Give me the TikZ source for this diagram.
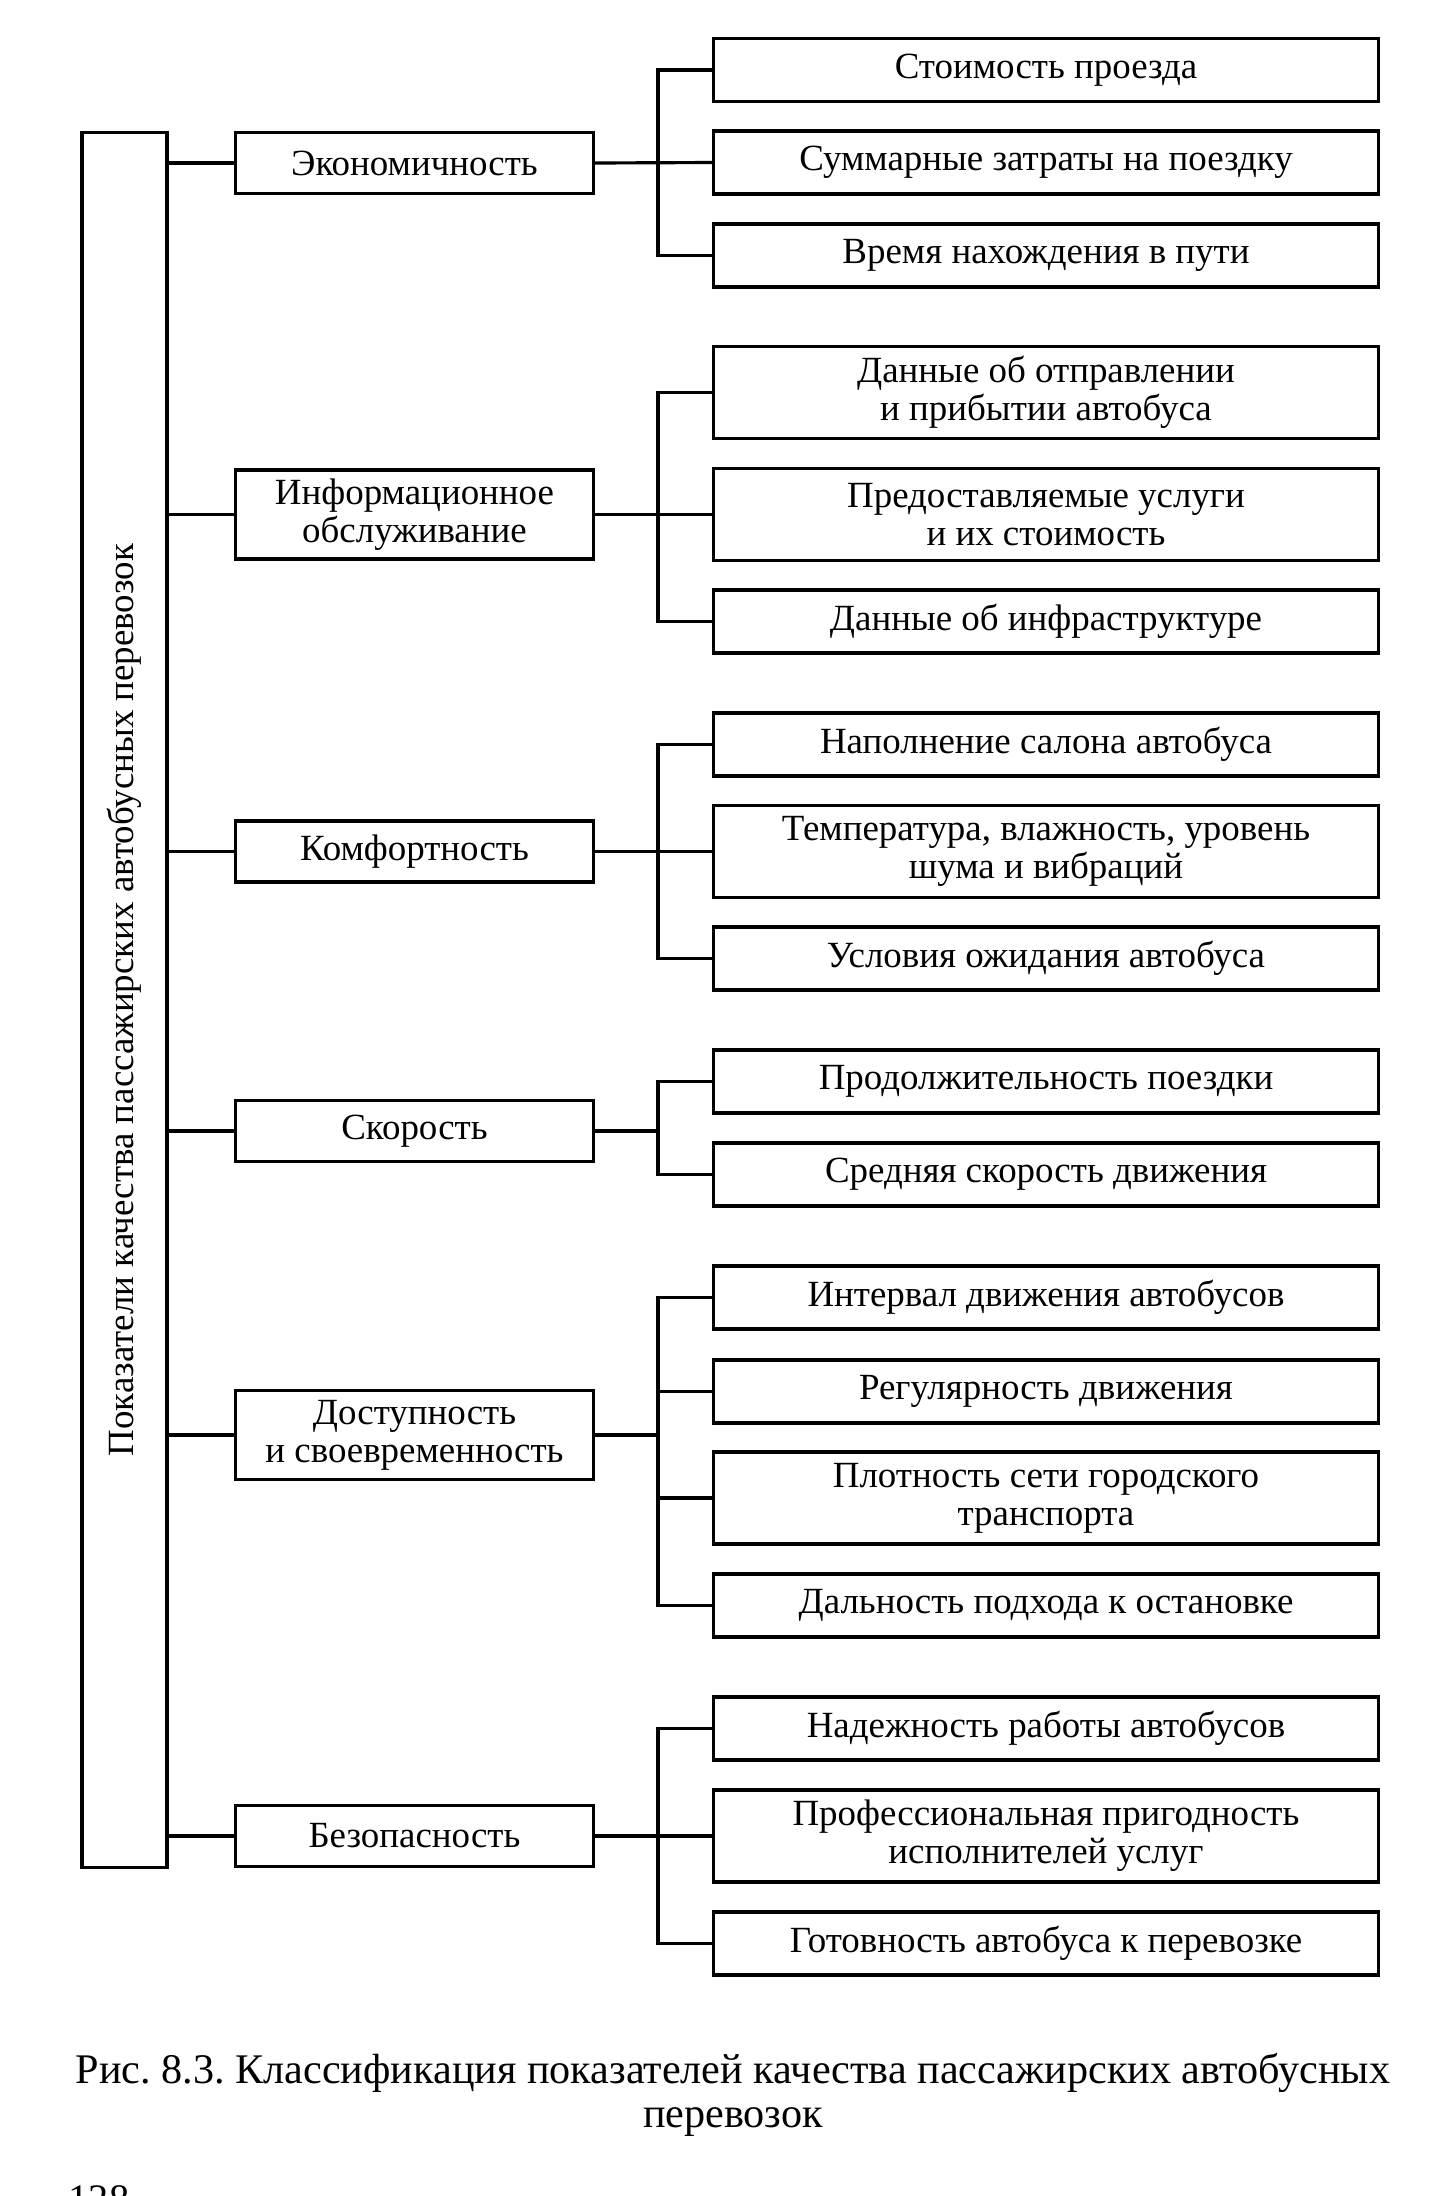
\documentclass[tikz,border=0pt]{standalone}
\usepackage{fontspec}
\setmainfont{Liberation Serif}
\frenchspacing
\begin{document}
\begin{tikzpicture}[x=0.01cm,y=-0.01cm,
  box/.style={draw, line width=0.9pt, inner sep=1pt, align=center, font=\fontsize{10.5}{10.8}\selectfont},
  midbox/.style={box, minimum width=3.57cm, minimum height=0.61cm},
  midtall/.style={midbox, minimum height=0.89cm},
  rbox/.style={box, minimum width=6.64cm, minimum height=0.63cm},
  rtall/.style={rbox, minimum height=0.92cm},
  conn/.style={line width=0.9pt}]
\useasboundingbox (0,0) rectangle (1444,2196);
\clip (0,0) rectangle (1444,2196);
% main box
\node[draw, line width=0.9pt, minimum width=0.85cm, minimum height=17.34cm] (main) at (124.5,1000) {};
\node[rotate=90, font=\fontsize{10.5}{10.8}\selectfont] (mainlbl) at (main.center) {Показатели качества пассажирских автобусных перевозок};
% middle level
\node[midbox] (m1) at (414.5,163) {Экономичность};
\node[midtall] (m2) at (414.5,514.5) {Информационное\\обслуживание};
\node[midbox] (m3) at (414.5,851.5) {Комфортность};
\node[midbox] (m4) at (414.5,1131) {Скорость};
\node[midtall] (m5) at (414.5,1435) {Доступность\\и своевременность};
\node[midbox] (m6) at (414.5,1836) {Безопасность};
% right level
\node[rbox] (r1a) at (1046,70) {Стоимость проезда};
\node[rbox] (r1b) at (1046,162.5) {Суммарные затраты на поездку};
\node[rbox] (r1c) at (1046,255.5) {Время нахождения в пути};
\node[rtall] (r2a) at (1046,392.5) {Данные об отправлении\\и прибытии автобуса};
\node[rtall] (r2b) at (1046,514.5) {Предоставляемые услуги\\и их стоимость};
\node[rbox] (r2c) at (1046,621.5) {Данные об инфраструктуре};
\node[rbox] (r3a) at (1046,744.5) {Наполнение салона автобуса};
\node[rtall] (r3b) at (1046,851.5) {Температура, влажность, уровень\\шума и вибраций};
\node[rbox] (r3c) at (1046,958.5) {Условия ожидания автобуса};
\node[rbox] (r4a) at (1046,1081.5) {Продолжительность поездки};
\node[rbox] (r4b) at (1046,1174.5) {Средняя скорость движения};
\node[rbox] (r5a) at (1046,1297.5) {Интервал движения автобусов};
\node[rbox] (r5b) at (1046,1391.5) {Регулярность движения};
\node[rtall] (r5c) at (1046,1498) {Плотность сети городского\\транспорта};
\node[rbox] (r5d) at (1046,1605.5) {Дальность подхода к остановке};
\node[rbox] (r6a) at (1046,1728.5) {Надежность работы автобусов};
\node[rtall] (r6b) at (1046,1836) {Профессиональная пригодность\\исполнителей услуг};
\node[rbox] (r6c) at (1046,1943.5) {Готовность автобуса к перевозке};
% bracket coordinates
\coordinate (bx) at (658,0);
% main to middle
\foreach \m in {m1,m2,m3,m4,m5,m6}
  \draw[conn] (main.east |- \m.west) -- (\m.west);
% group 1
\draw[conn] (m1.east) -- (r1b.west);
\draw[conn] (r1a.west) -- (r1a.west -| bx) -- (r1c.west -| bx) -- (r1c.west);
% group 2
\draw[conn] (m2.east) -- (r2b.west);
\draw[conn] (r2a.west) -- (r2a.west -| bx) -- (r2c.west -| bx) -- (r2c.west);
% group 3
\draw[conn] (m3.east) -- (r3b.west);
\draw[conn] (r3a.west) -- (r3a.west -| bx) -- (r3c.west -| bx) -- (r3c.west);
% group 4
\draw[conn] (m4.east) -- (m4.east -| bx);
\draw[conn] (r4a.west) -- (r4a.west -| bx) -- (r4b.west -| bx) -- (r4b.west);
% group 5
\draw[conn] (m5.east) -- (m5.east -| bx);
\draw[conn] (r5a.west) -- (r5a.west -| bx) -- (r5d.west -| bx) -- (r5d.west);
\draw[conn] (r5b.west -| bx) -- (r5b.west);
\draw[conn] (r5c.west -| bx) -- (r5c.west);
% group 6
\draw[conn] (m6.east) -- (r6b.west);
\draw[conn] (r6a.west) -- (r6a.west -| bx) -- (r6c.west -| bx) -- (r6c.west);
% caption
\node[align=center, font=\fontsize{12}{12.6}\selectfont] (cap) at (733,2095) {Рис. 8.3. Классификация показателей качества пассажирских автобусных\\перевозок};
\node[font=\fontsize{11.5}{12.5}\selectfont] (pg) at (99,2199) {128};
\end{tikzpicture}
\end{document}
